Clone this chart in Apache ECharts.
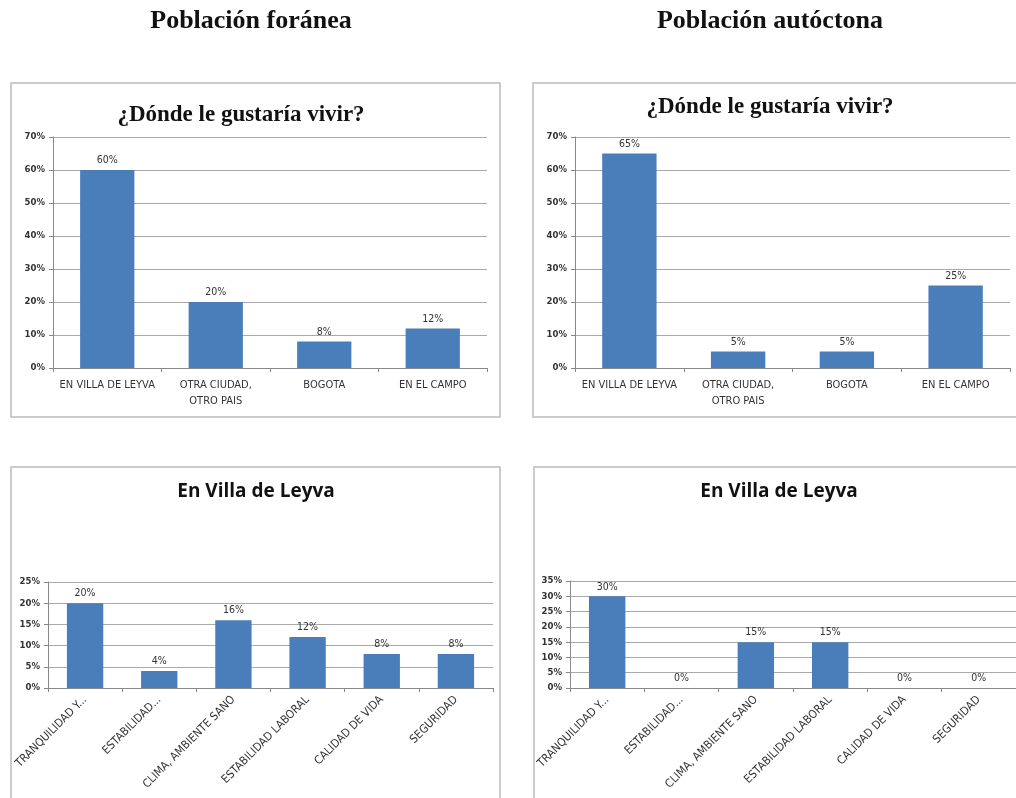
<!DOCTYPE html>
<html>
<head>
<meta charset="utf-8">
<script src="https://cdn.jsdelivr.net/npm/echarts@6/dist/echarts.min.js"></script>
<style>
  html, body { margin: 0; padding: 0; background: #fff; }
  #main { width: 1016px; height: 798px; }
</style>
</head>
<body>
<div id="main"></div>
<script>
// datos
var vivirCats = ['EN VILLA DE LEYVA', 'OTRA CIUDAD,\nOTRO PAIS', 'BOGOTA', 'EN EL CAMPO'];
var vivirForanea = [60, 20, 8, 12];
var vivirAutoctona = [65, 5, 5, 25];

var villaCats = ['TRANQUILIDAD Y...', 'ESTABILIDAD...', 'CLIMA, AMBIENTE SANO', 'ESTABILIDAD LABORAL', 'CALIDAD DE VIDA', 'SEGURIDAD'];
var villaForanea = [20, 4, 16, 12, 8, 8];
var villaAutoctona = [30, 0, 15, 15, 0, 0];

var yTicksTop = [0, 70, 10];
var yTicksBotLeft = [0, 25, 5];
var yTicksBotRight = [0, 35, 5];

var barColor = '#4a7ebb';
var gridColor = '#a9a9a9';
var labelFont = '"DejaVu Sans Condensed", "Liberation Sans", sans-serif';

var chart = echarts.init(document.getElementById('main'));

function xAxisOpt(idx, cats, rotate) {
    return {
        type: 'category',
        gridIndex: idx,
        data: cats,
        axisLine: { lineStyle: { color: '#888', width: 1 } },
        axisTick: { show: true, length: 4, lineStyle: { color: '#888' } },
        axisLabel: {
            interval: 0,
            rotate: rotate,
            color: '#333',
            fontSize: rotate ? 11.5 : 11,
            fontFamily: labelFont,
            margin: rotate ? 10 : 9,
            lineHeight: 16
        }
    };
}

function yAxisOpt(idx, ticks) {
    return {
        type: 'value',
        gridIndex: idx,
        min: ticks[0],
        max: ticks[1],
        interval: ticks[2],
        axisLine: { show: true, lineStyle: { color: '#888' } },
        axisTick: { show: true, length: 4, lineStyle: { color: '#888' } },
        splitLine: { lineStyle: { color: gridColor, width: 1 } },
        axisLabel: {
            formatter: '{value}%',
            color: '#333',
            fontSize: 9.5,
            fontWeight: 'bold',
            fontFamily: labelFont,
            margin: 8
        }
    };
}

function barSeries(idx, data, width) {
    return {
        type: 'bar',
        xAxisIndex: idx,
        yAxisIndex: idx,
        data: data,
        barWidth: width,
        itemStyle: { color: barColor },
        label: {
            show: true,
            position: 'top',
            distance: 4,
            formatter: '{c}%',
            color: '#333',
            fontSize: 10.5,
            fontFamily: labelFont
        }
    };
}

function box(x, y, w, h) {
    return {
        type: 'rect',
        z: -10,
        shape: { x: x, y: y, width: w, height: h },
        style: { fill: '#fff', stroke: '#bcbcbc', lineWidth: 1.5 }
    };
}

function txt(x, y, text, font) {
    return {
        type: 'text',
        x: x,
        y: y,
        style: { text: text, font: font, fill: '#111', textAlign: 'center', textVerticalAlign: 'middle' }
    };
}

var option = {
    animation: false,
    backgroundColor: '#fff',
    grid: [
        { left: 53, top: 137, width: 434, height: 231 },
        { left: 575, top: 137, width: 435, height: 231 },
        { left: 48, top: 582, width: 445, height: 106 },
        { left: 570, top: 581, width: 446, height: 107 }
    ],
    xAxis: [
        xAxisOpt(0, vivirCats, 0),
        xAxisOpt(1, vivirCats, 0),
        xAxisOpt(2, villaCats, 45),
        xAxisOpt(3, villaCats, 45)
    ],
    yAxis: [
        yAxisOpt(0, yTicksTop),
        yAxisOpt(1, yTicksTop),
        yAxisOpt(2, yTicksBotLeft),
        yAxisOpt(3, yTicksBotRight)
    ],
    series: [
        barSeries(0, vivirForanea, '50%'),
        barSeries(1, vivirAutoctona, '50%'),
        barSeries(2, villaForanea, '49%'),
        barSeries(3, villaAutoctona, '49%')
    ],
    graphic: [
        box(11, 83, 489, 334),
        box(533, 83, 500, 334),
        box(11, 467, 489, 340),
        box(534, 467, 500, 340),
        txt(251, 21, 'Población foránea', 'bold 26px "Liberation Serif", serif'),
        txt(770, 21, 'Población autóctona', 'bold 26px "Liberation Serif", serif'),
        txt(241, 115, '¿Dónde le gustaría vivir?', 'bold 23px "Liberation Serif", serif'),
        txt(770, 107, '¿Dónde le gustaría vivir?', 'bold 23px "Liberation Serif", serif'),
        txt(256, 492, 'En Villa de Leyva', 'bold 19px "Open Sans", sans-serif'),
        txt(779, 492, 'En Villa de Leyva', 'bold 19px "Open Sans", sans-serif')
    ]
};

chart.setOption(option);
</script>
</body>
</html>
